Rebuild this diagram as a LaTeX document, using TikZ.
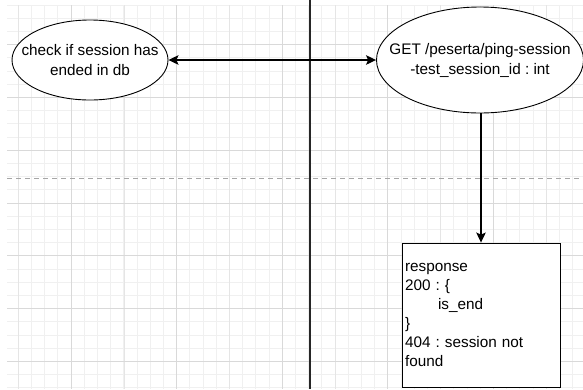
\documentclass[tikz,border=0pt]{standalone}
\usepackage{fontspec}
\setmainfont{Liberation Sans}
\usetikzlibrary{arrows.meta,shapes.geometric}
\frenchspacing
\begin{document}
\begin{tikzpicture}[x=1pt,y=-1pt,
  minorline/.style={draw=black!6,line width=0.8pt},
  midline/.style={draw=black!10,line width=0.8pt},
  majorline/.style={draw=black!15,line width=0.9pt},
  usecase/.style={ellipse,draw=black,line width=0.9pt,fill=white,inner xsep=-20pt,inner ysep=0pt,
    align=center,font=\fontsize{15.3}{20}\selectfont},
  respbox/.style={rectangle,draw=black,line width=0.9pt,fill=white,inner sep=3pt,align=left,
    text width=152pt,minimum width=158pt,minimum height=144pt,
    font=\fontsize{15.3}{19}\selectfont},
  tip/.style={Stealth[length=10pt,width=9.5pt,inset=2pt]},
  link/.style={draw=black,line width=1.2pt,{Stealth[length=10pt,width=9.5pt,inset=2pt]}-{Stealth[length=10pt,width=9.5pt,inset=2pt]}},
  flow/.style={draw=black,line width=1.2pt,-{Stealth[length=10pt,width=9.5pt,inset=2pt]}}]
\useasboundingbox (0,0) rectangle (583,389);
\fill[white] (0,0) rectangle (583,389);

% background grid
\begin{scope}
  \clip (7,5) rectangle (583,389);
  \foreach \i in {-5,...,40} \draw[minorline] ({71+13.2*\i},0) -- ++(0,389);
  \foreach \j in {-15,...,15} \draw[minorline] (0,{203+13.2*\j}) -- ++(583,0);
  \foreach \i in {-1,...,5} \draw[midline] ({124+105.6*\i},0) -- ++(0,389);
  \foreach \i in {-1,...,5} \draw[majorline] ({71+105.6*\i},0) -- ++(0,389);
  \foreach \j in {-4,...,4} \draw[majorline] (0,{203+52.8*\j}) -- ++(583,0);
\end{scope}

% separators
\draw[black!35,line width=0.9pt,dash pattern=on 5pt off 4pt] (7,178) -- (583,178);
\draw[black!85,line width=1.3pt] (310,0) -- (310,389);

% nodes
\node[usecase,minimum width=156pt,minimum height=80pt] (check) at (90,60)
  {check if session has\\ended in db};
\node[usecase,minimum width=207pt,minimum height=106pt] (ping) at (480,60)
  {GET /peserta/ping-session\\-test\_session\_id : int};
\node[respbox] (resp) at (481,315)
  {response\\200 : \{\\\hspace*{33pt}is\_end\\\}\\404 : session not\\found};

% connectors
\draw[link] (check.east) -- (ping.west);
\draw[flow] (ping.south -| resp.north) -- (resp.north);
\end{tikzpicture}
\end{document}
